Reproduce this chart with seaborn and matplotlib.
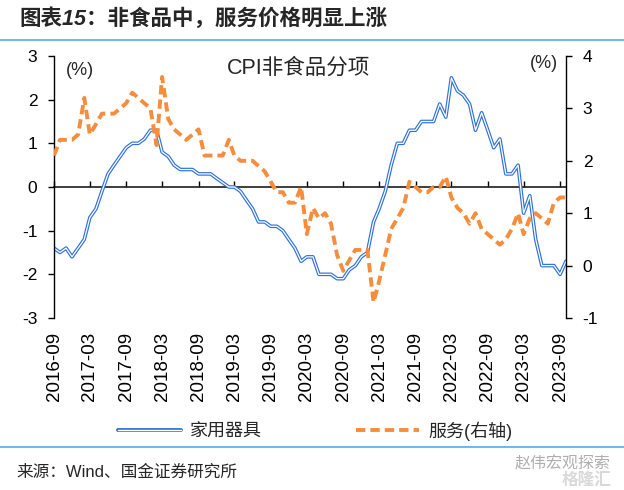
import matplotlib
matplotlib.use("Agg")
import matplotlib.pyplot as plt
import matplotlib.dates as mdates
from matplotlib.lines import Line2D
from matplotlib.legend_handler import HandlerTuple
import pandas as pd
import seaborn as sns

sns.set_theme(style="white")
plt.rcParams["font.family"] = ["Liberation Sans", "Noto Sans CJK SC", "DejaVu Sans"]
plt.rcParams["axes.unicode_minus"] = False

# monthly data, 2016-09 .. 2023-10
months = pd.date_range("2016-09-01", periods=86, freq="MS")

# 家用器具 CPI yoy, % (left axis)
appliances = [
    -1.4, -1.5, -1.4, -1.6, -1.4, -1.2, -0.7, -0.5, -0.1, 0.3,
    0.5, 0.7, 0.9, 1.0, 1.0, 1.1, 1.3, 1.3, 0.8, 0.7,
    0.5, 0.4, 0.4, 0.4, 0.3, 0.3, 0.3, 0.2, 0.1, 0.0,
    0.0, -0.1, -0.3, -0.5, -0.8, -0.8, -0.9, -0.9, -1.0, -1.2,
    -1.4, -1.7, -1.6, -1.6, -2.0, -2.0, -2.0, -2.1, -2.1, -1.9,
    -1.8, -1.6, -1.5, -0.8, -0.5, -0.1, 0.5, 1.0, 1.0, 1.3,
    1.3, 1.5, 1.5, 1.5, 1.9, 1.6, 2.5, 2.2, 2.1, 1.9,
    1.3, 1.7, 1.3, 0.9, 1.1, 0.3, 0.3, 0.5, -0.6, -0.2,
    -1.2, -1.8, -1.8, -1.8, -2.0, -1.7,
]

# 服务 CPI yoy, % (right axis)
services = [
    2.1, 2.4, 2.4, 2.4, 2.5, 3.2, 2.5, 2.7, 2.9, 2.9,
    2.9, 3.0, 3.1, 3.3, 3.2, 3.1, 3.0, 2.3, 3.6, 2.8,
    2.6, 2.5, 2.4, 2.5, 2.6, 2.1, 2.1, 2.1, 2.1, 2.4,
    2.1, 2.0, 2.0, 2.0, 1.9, 1.8, 1.6, 1.4, 1.4, 1.2,
    1.2, 1.5, 0.6, 1.1, 0.9, 1.0, 0.8, 0.2, -0.1, 0.1,
    0.3, 0.3, 0.3, -0.7, -0.3, 0.2, 0.7, 0.9, 1.1, 1.6,
    1.5, 1.4, 1.4, 1.5, 1.5, 1.7, 1.3, 1.1, 1.0, 0.8,
    1.0, 0.7, 0.6, 0.5, 0.4, 0.5, 0.7, 1.0, 0.6, 0.9,
    1.0, 0.9, 0.8, 1.2, 1.3, 1.3,
]

tick_dates = pd.date_range("2016-09-01", "2023-09-01", freq="6MS")
left_ticks = [-3, -2, -1, 0, 1, 2, 3]
right_ticks = [-1, 0, 1, 2, 3, 4]

BLUE = "#2F72D6"
ORANGE = "#F68D3C"
RULE = "#5AAAE4"

fig = plt.figure(figsize=(6.24, 4.9), dpi=100)
ax = fig.add_axes([54 / 624, 1 - 318 / 490, 512 / 624, 262 / 490])
ax2 = ax.twinx()

# double (outlined) blue line: thick blue with a thin white core
sns.lineplot(x=months, y=appliances, ax=ax, color=BLUE, lw=2.6, legend=False)
sns.lineplot(x=months, y=appliances, ax=ax, color="white", lw=0.9, legend=False)
sns.lineplot(x=months, y=services, ax=ax2, color=ORANGE, lw=2.8,
             dashes=False, legend=False)
ax2.lines[0].set_dashes((2.4, 1.3))

ax.set_xlim(months[0], months[-1])
ax.set_ylim(-3, 3)
ax2.set_ylim(-1, 4)
ax.set_yticks(left_ticks)
ax2.set_yticks(right_ticks)
ax.set_yticklabels([str(v) for v in left_ticks])
ax2.set_yticklabels([str(v) for v in right_ticks])

ax.set_xticks(tick_dates)
ax.xaxis.set_major_formatter(mdates.DateFormatter("%Y-%m"))
ax.tick_params(axis="x", length=0, pad=10, labelsize=13.5, labelrotation=90,
               colors="black")
ax.tick_params(axis="y", direction="out", length=4, width=1, pad=8,
               labelsize=12.5, colors="black", left=True)
ax2.tick_params(axis="y", direction="out", length=4, width=1, pad=8,
                labelsize=12.5, colors="black", right=True)

for a in (ax, ax2):
    a.grid(False)
    a.set_xlabel("")
    a.set_ylabel("")
    for s in a.spines.values():
        s.set_visible(False)
ax.spines["left"].set_visible(True)
ax2.spines["right"].set_visible(True)
for s in (ax.spines["left"], ax2.spines["right"]):
    s.set_color("black")
    s.set_linewidth(1)

# zero line with the month ticks (middle of the left axis range)
sec = ax.secondary_xaxis(0.5)
sec.set_xticks(mdates.date2num(tick_dates))
sec.set_xticklabels([])
sec.tick_params(axis="x", direction="out", length=4.5, width=1, colors="black")
sec.spines["bottom"].set_color("black")
sec.spines["bottom"].set_linewidth(1.2)

ax.text(0.023, 0.945, "(%)", transform=ax.transAxes, fontsize=13, va="center")
ax2.text(0.985, 0.97, "(%)", transform=ax.transAxes, fontsize=13,
         va="center", ha="right")
ax.text(0.478, 0.955, "CPI非食品分项", transform=ax.transAxes, fontsize=15.5,
        va="center", ha="center")

# legend below the axes
h_blue = (Line2D([], [], color=BLUE, lw=2.8), Line2D([], [], color="white", lw=1.0))
h_orange = Line2D([], [], color=ORANGE, lw=2.8, dashes=(2.4, 1.3))
fig.legend([h_blue, h_orange], ["家用器具", "服务(右轴)"],
           handler_map={tuple: HandlerTuple(ndivide=1, pad=0)},
           loc="center", bbox_to_anchor=(0.505, 1 - 431 / 490), ncol=2,
           frameon=False, fontsize=13, handlelength=3.5, handletextpad=0.5,
           columnspacing=5.2)

# header, rules and source
fig.text(0.032, 1 - 19 / 490, "图表15：非食品中，服务价格明显上涨", fontsize=15.5,
         fontweight="bold", fontstyle="italic", va="center")
fig.add_artist(Line2D([0, 1], [1 - 40 / 490] * 2, color=RULE, lw=1.2,
                      transform=fig.transFigure))
fig.add_artist(Line2D([0, 1], [1 - 447 / 490] * 2, color=RULE, lw=1.2,
                      transform=fig.transFigure))
fig.text(0.027, 1 - 472 / 490, "来源：Wind、国金证券研究所", fontsize=12,
         va="center")
fig.text(0.825, 1 - 464 / 490, "赵伟宏观探索", fontsize=11.5, color="#9a9a9a",
         va="center", alpha=0.8)
fig.text(0.90, 1 - 480 / 490, "格隆汇", fontsize=12, color="#d0d0d0",
         va="center", fontweight="bold", alpha=0.8)

fig.savefig("out.png", dpi=100)
